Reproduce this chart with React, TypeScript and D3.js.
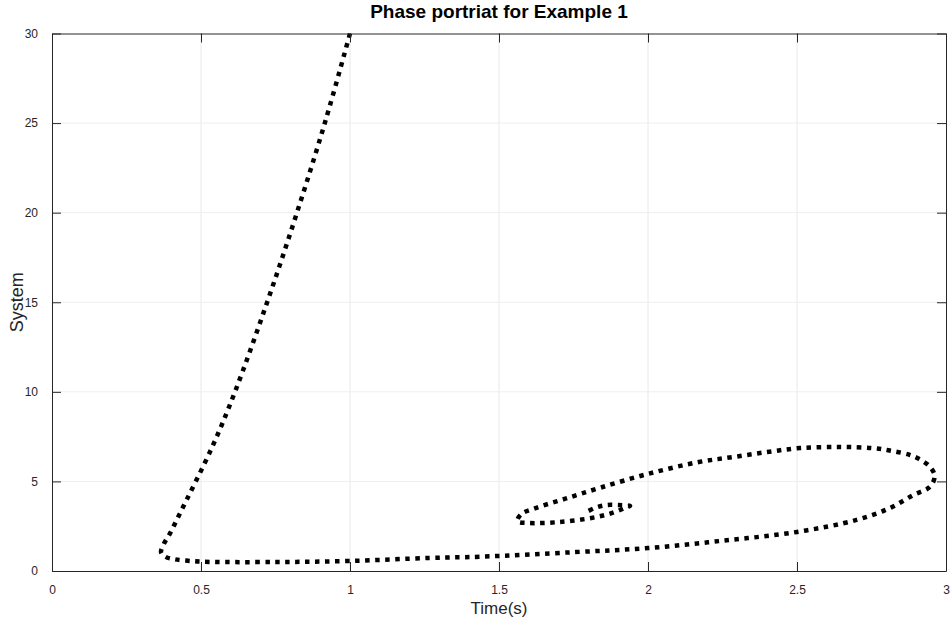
import { useEffect, useRef } from 'react';
import * as d3 from 'd3';

// trajectory (time vs system)
const timeValues = [1.0, 0.919, 0.822, 0.722, 0.614, 0.537, 0.43, 0.396, 0.375, 0.366, 0.38, 0.41, 0.45, 0.503, 0.75, 1.0, 1.27, 1.44, 1.75, 2.0, 2.25, 2.5, 2.7, 2.81, 2.89, 2.946, 2.962, 2.946, 2.91, 2.88, 2.82, 2.755, 2.645, 2.51, 2.4, 2.285, 2.17, 2.0, 1.84, 1.72, 1.62, 1.575, 1.562, 1.6, 1.7, 1.81, 1.88, 1.93, 1.94, 1.9, 1.86, 1.83, 1.8];
const systemValues = [30, 25.2, 20, 15, 10, 6.9, 3.24, 2.1, 1.5, 1.05, 0.8, 0.66, 0.58, 0.52, 0.5, 0.56, 0.73, 0.8, 1.05, 1.28, 1.69, 2.18, 2.85, 3.5, 4.24, 4.7, 5.3, 5.82, 6.25, 6.47, 6.7, 6.86, 6.92, 6.86, 6.64, 6.36, 6.08, 5.42, 4.65, 4.02, 3.5, 3.18, 2.78, 2.68, 2.73, 2.96, 3.24, 3.57, 3.63, 3.68, 3.68, 3.57, 3.35];

const xTicks = [0, 0.5, 1, 1.5, 2, 2.5, 3];
const yTicks = [0, 5, 10, 15, 20, 25, 30];

const W = 952;
const H = 621;
const FONT = 'Liberation Sans, Arial, Helvetica, sans-serif';
const AXIS = '#262626';

export default function App() {
  const svgRef = useRef<SVGSVGElement>(null);

  useEffect(() => {
    const margin = { top: 33.5, right: 6, bottom: 50, left: 52 };
    const width = W - margin.left - margin.right;
    const height = H - margin.top - margin.bottom;

    const root = d3.select(svgRef.current);
    root.selectAll('*').remove();

    const svg = root.append('g')
      .attr('transform', `translate(${margin.left},${margin.top})`);

    const x = d3.scaleLinear().domain([0, 3]).range([0, width]);
    const y = d3.scaleLinear().domain([0, 30]).range([height, 0]);

    // grid
    svg.append('g')
      .selectAll('line')
      .data(xTicks.slice(1, -1))
      .join('line')
      .attr('x1', d => x(d)).attr('x2', d => x(d))
      .attr('y1', 0).attr('y2', height)
      .attr('stroke', '#e8e8e8').attr('stroke-width', 1);

    svg.append('g')
      .selectAll('line')
      .data(yTicks.slice(1, -1))
      .join('line')
      .attr('x1', 0).attr('x2', width)
      .attr('y1', d => y(d)).attr('y2', d => y(d))
      .attr('stroke', '#eeeeee').attr('stroke-width', 1);

    // trajectory
    const pts = timeValues.map((t, i) => [t, systemValues[i]] as [number, number]);
    const line = d3.line<[number, number]>()
      .x(d => x(d[0]))
      .y(d => y(d[1]))
      .curve(d3.curveCatmullRom.alpha(0.5));

    svg.append('path')
      .datum(pts)
      .attr('fill', 'none')
      .attr('stroke', '#000')
      .attr('stroke-width', 4.5)
      .attr('stroke-dasharray', '4.5,5.5')
      .attr('d', line);

    // axes box with inward ticks
    const tickLen = 9;
    const axB = d3.axisBottom(x).tickValues(xTicks).tickSizeInner(-tickLen).tickSizeOuter(0).tickPadding(14)
      .tickFormat(d => String(d));
    const axT = d3.axisTop(x).tickValues(xTicks).tickSizeInner(-tickLen).tickSizeOuter(0).tickFormat(() => '');
    const axL = d3.axisLeft(y).tickValues(yTicks).tickSizeInner(-tickLen).tickSizeOuter(0).tickPadding(14)
      .tickFormat(d => String(d));
    const axR = d3.axisRight(y).tickValues(yTicks).tickSizeInner(-tickLen).tickSizeOuter(0).tickFormat(() => '');

    const styleAxis = (g: d3.Selection<SVGGElement, unknown, null, undefined>) => {
      g.selectAll('path').attr('stroke', AXIS).attr('stroke-width', 1);
      g.selectAll('line').attr('stroke', AXIS).attr('stroke-width', 1);
      g.selectAll('text').attr('fill', AXIS).style('font-family', FONT).style('font-size', '12px');
    };

    svg.append('g').attr('transform', `translate(0,${height})`).call(axB).call(styleAxis);
    svg.append('g').call(axT).call(styleAxis);
    svg.append('g').call(axL).call(styleAxis);
    svg.append('g').attr('transform', `translate(${width},0)`).call(axR).call(styleAxis);

    // labels
    svg.append('text')
      .attr('x', width / 2)
      .attr('y', height + 43)
      .attr('text-anchor', 'middle')
      .attr('fill', AXIS)
      .style('font-family', FONT)
      .style('font-size', '17px')
      .text('Time(s)');

    svg.append('text')
      .attr('transform', 'rotate(-90)')
      .attr('x', -height / 2)
      .attr('y', -29)
      .attr('text-anchor', 'middle')
      .attr('fill', AXIS)
      .style('font-family', FONT)
      .style('font-size', '18px')
      .text('System');

    svg.append('text')
      .attr('x', width / 2)
      .attr('y', -15.5)
      .attr('text-anchor', 'middle')
      .attr('fill', '#000')
      .style('font-family', FONT)
      .style('font-size', '19px')
      .style('font-weight', 'bold')
      .text('Phase portriat for Example 1');
  }, []);

  return (
    <svg
      ref={svgRef}
      width={W}
      height={H}
      style={{ position: 'absolute', left: 0, top: 0, background: '#fff' }}
    />
  );
}
